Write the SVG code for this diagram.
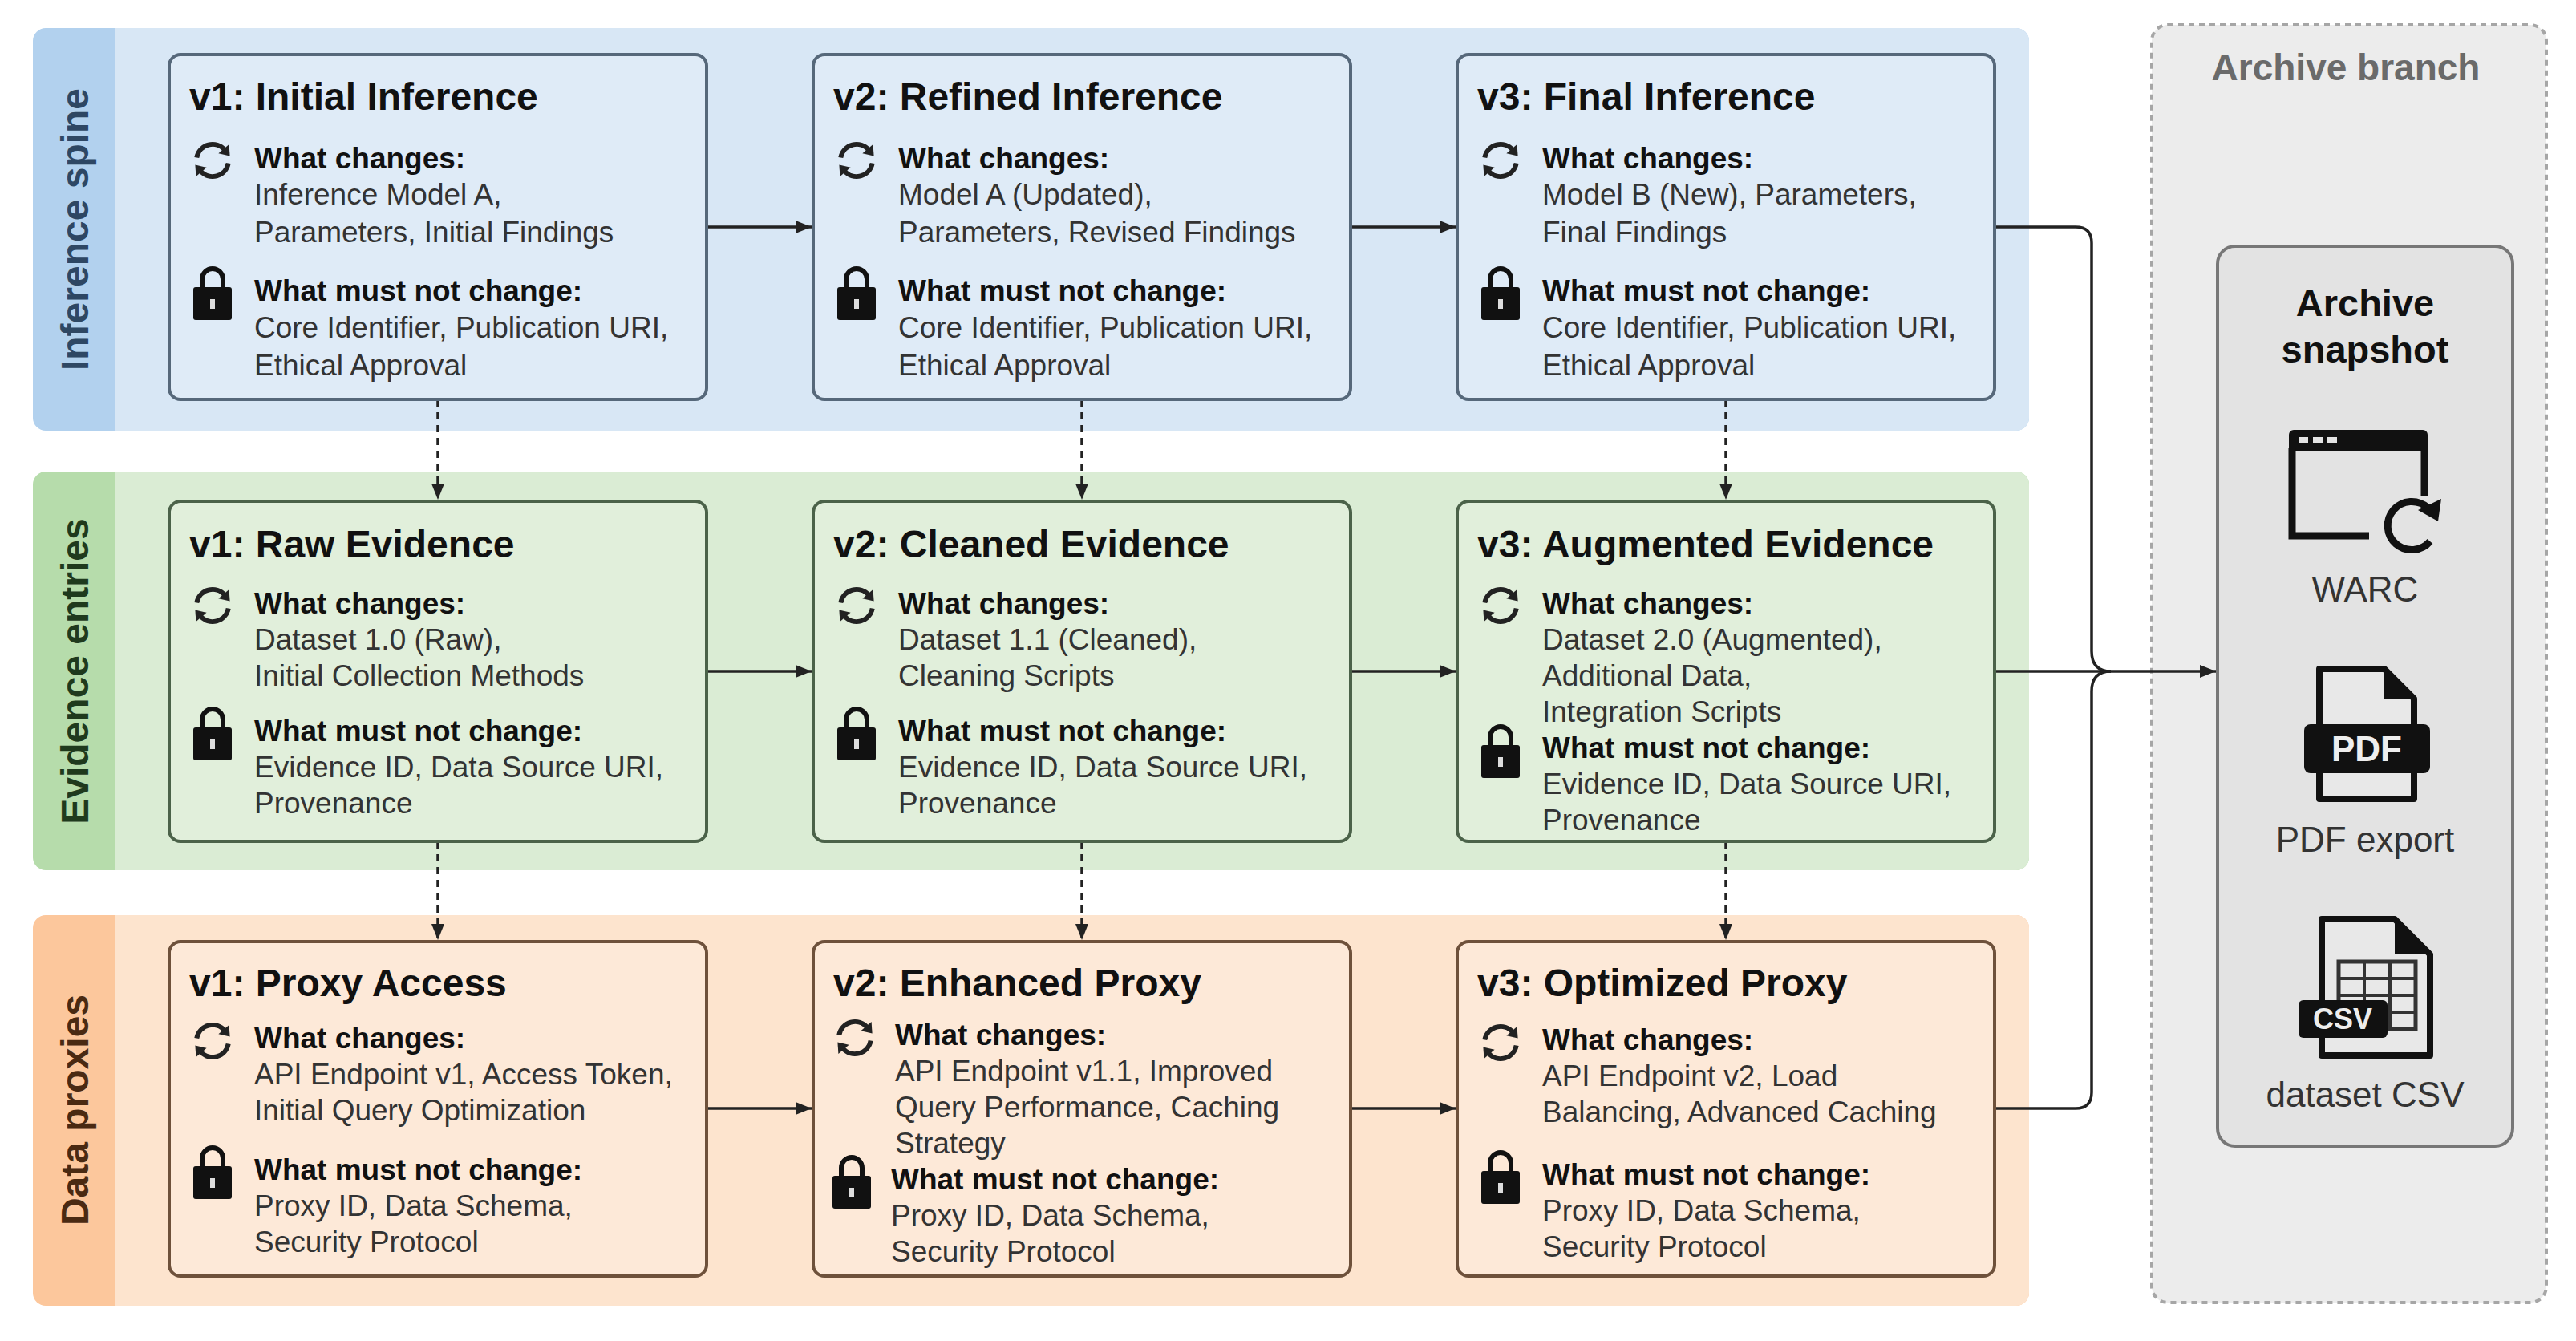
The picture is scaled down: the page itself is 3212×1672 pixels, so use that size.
<svg xmlns="http://www.w3.org/2000/svg" width="3212" height="1672" viewBox="0 0 3212 1672">
<style>
.title{font-family:"Liberation Sans",Arial,sans-serif;font-weight:bold;font-size:48px;fill:#111}
.hd{font-family:"Liberation Sans",Arial,sans-serif;font-weight:bold;font-size:37px;fill:#111}
.bd{font-family:"Liberation Sans",Arial,sans-serif;font-size:37px;fill:#333}
.lane{font-family:"Liberation Sans",Arial,sans-serif;font-weight:bold;font-size:48px}
.n1{fill:#dfebf7;stroke:#56687a;stroke-width:4}
.n2{fill:#e1efdb;stroke:#4b6249;stroke-width:4}
.n3{fill:#fde9d8;stroke:#6e513b;stroke-width:4}
.solid{fill:none;stroke:#222;stroke-width:3.5}
.dash{fill:none;stroke:#222;stroke-width:3.5;stroke-dasharray:9 7}
.arch{font-family:"Liberation Sans",Arial,sans-serif;font-size:44px;fill:#333;text-anchor:middle}
</style>
<defs>
<marker id="ah" markerUnits="userSpaceOnUse" viewBox="0 0 20 16" refX="20" refY="8" markerWidth="20" markerHeight="16" orient="auto">
<path d="M0 0 L20 8 L0 16 Z" fill="#222"/>
</marker>
<g id="sync">
<path d="M -19.7 -3.5 A 20 20 0 0 1 15.3 -12.9" fill="none" stroke="#222" stroke-width="6"/>
<path d="M 21.6 -5.5 L 20.6 -20 L 7.4 -8.8 Z" fill="#222"/>
<path d="M 19.7 3.5 A 20 20 0 0 1 -15.3 12.9" fill="none" stroke="#222" stroke-width="6"/>
<path d="M -21.6 5.5 L -20.6 20 L -7.4 8.8 Z" fill="#222"/>
</g>
<g id="lock">
<path d="M -13 -8 V -18 A 13 13 0 0 1 13 -18 V -8" fill="none" stroke="#111" stroke-width="6"/>
<rect x="-24" y="-8" width="48" height="41" rx="3" fill="#111"/>
<rect x="-3" y="7" width="6" height="12" fill="#ddd"/>
</g>
</defs>

<rect width="3212" height="1672" fill="#ffffff"/>

<!-- lanes -->
<g id="lane-inference">
<rect x="41" y="35" width="2489" height="502" rx="16" fill="#b2d1ee"/>
<path d="M143 35 H2514 A16 16 0 0 1 2530 51 V521 A16 16 0 0 1 2514 537 H143 Z" fill="#d8e7f5"/>
<text class="lane" fill="#2e4763" transform="translate(110 286) rotate(-90)" text-anchor="middle">Inference spine</text>
</g>
<g id="lane-evidence">
<rect x="41" y="588" width="2489" height="497" rx="16" fill="#b6dcab"/>
<path d="M143 588 H2514 A16 16 0 0 1 2530 604 V1069 A16 16 0 0 1 2514 1085 H143 Z" fill="#daecd4"/>
<text class="lane" fill="#1f3a1d" transform="translate(110 837) rotate(-90)" text-anchor="middle">Evidence entries</text>
</g>
<g id="lane-proxies">
<rect x="41" y="1141" width="2489" height="487" rx="16" fill="#fcc79c"/>
<path d="M143 1141 H2514 A16 16 0 0 1 2530 1157 V1612 A16 16 0 0 1 2514 1628 H143 Z" fill="#fde4ce"/>
<text class="lane" fill="#4a2a12" transform="translate(110 1384) rotate(-90)" text-anchor="middle">Data proxies</text>
</g>

<!-- archive branch -->
<g id="archive-branch">
<rect x="2683" y="31" width="492" height="1593" rx="20" fill="#ececec" stroke="#a6a6a6" stroke-width="4" stroke-dasharray="7 6"/>
<text x="2925" y="100" font-family="Liberation Sans, Arial, sans-serif" font-weight="bold" font-size="46" fill="#6a6a6a" text-anchor="middle">Archive branch</text>
</g>
<g id="archive-snapshot">
<rect x="2765" y="307" width="368" height="1122" rx="22" fill="#e3e3e3" stroke="#777" stroke-width="4"/>
<text x="2949" y="394" font-family="Liberation Sans, Arial, sans-serif" font-weight="bold" font-size="47" fill="#111" text-anchor="middle">Archive</text>
<text x="2949" y="452" font-family="Liberation Sans, Arial, sans-serif" font-weight="bold" font-size="47" fill="#111" text-anchor="middle">snapshot</text>
<!-- WARC icon -->
<g id="icon-warc">
<path d="M2860 536 H3021 A6 6 0 0 1 3027 542 V562 H2854 V542 A6 6 0 0 1 2860 536 Z" fill="#111"/>
<rect x="2866" y="545" width="12" height="7" fill="#e3e3e3"/>
<rect x="2884" y="545" width="12" height="7" fill="#e3e3e3"/>
<rect x="2902" y="545" width="12" height="7" fill="#e3e3e3"/>
<path d="M2858 558 V668 H2954" fill="none" stroke="#111" stroke-width="9"/>
<path d="M3023 558 V618" fill="none" stroke="#111" stroke-width="9"/>
<path d="M3030 675 A30 30 0 1 1 3027 633" fill="none" stroke="#111" stroke-width="9"/>
<path d="M3044 622 L3040 650 L3015 636 Z" fill="#111"/>
<text class="arch" x="2949" y="750">WARC</text>
</g>
<!-- PDF icon -->
<g id="icon-pdf">
<path d="M2892 834 H2973 L3010 871 V996 H2892 Z" fill="#e8e8e8" stroke="#111" stroke-width="8" stroke-linejoin="round"/>
<path d="M2973 834 L3010 871 H2973 Z" fill="#111"/>
<rect x="2873" y="903" width="157" height="61" rx="8" fill="#111"/>
<text x="2951" y="949" font-family="Liberation Sans, Arial, sans-serif" font-weight="bold" font-size="44" fill="#eee" text-anchor="middle">PDF</text>
<text class="arch" x="2949" y="1062">PDF export</text>
</g>
<!-- CSV icon -->
<g id="icon-csv">
<path d="M2895 1146 H2986 L3030 1190 V1316 H2895 Z" fill="#e8e8e8" stroke="#111" stroke-width="8" stroke-linejoin="round"/>
<path d="M2986 1146 L3030 1190 H2986 Z" fill="#111"/>
<rect x="2916" y="1199" width="96" height="84" fill="none" stroke="#333" stroke-width="5"/>
<path d="M2916 1220 H3012 M2916 1241 H3012 M2916 1262 H3012 M2948 1199 V1283 M2980 1199 V1283" stroke="#333" stroke-width="4"/>
<rect x="2866" y="1247" width="111" height="47" rx="6" fill="#111"/>
<text x="2921" y="1283" font-family="Liberation Sans, Arial, sans-serif" font-weight="bold" font-size="36" fill="#eee" text-anchor="middle">CSV</text>
<text class="arch" x="2949" y="1380">dataset CSV</text>
</g>
</g>

<!-- connectors -->
<g id="connectors">
<path class="solid" d="M881 283 H1012" marker-end="url(#ah)"/>
<path class="solid" d="M1684 283 H1815" marker-end="url(#ah)"/>
<path class="solid" d="M881 837 H1012" marker-end="url(#ah)"/>
<path class="solid" d="M1684 837 H1815" marker-end="url(#ah)"/>
<path class="solid" d="M881 1382 H1012" marker-end="url(#ah)"/>
<path class="solid" d="M1684 1382 H1815" marker-end="url(#ah)"/>
<path class="dash" d="M546 498 V623" marker-end="url(#ah)"/>
<path class="dash" d="M1349 498 V623" marker-end="url(#ah)"/>
<path class="dash" d="M2152 498 V623" marker-end="url(#ah)"/>
<path class="dash" d="M546 1049 V1172" marker-end="url(#ah)"/>
<path class="dash" d="M1349 1049 V1172" marker-end="url(#ah)"/>
<path class="dash" d="M2152 1049 V1172" marker-end="url(#ah)"/>
<path class="solid" d="M2487 283 H2588 Q2608 283 2608 303 V812 Q2608 837 2632 837"/>
<path class="solid" d="M2487 1382 H2588 Q2608 1382 2608 1362 V862 Q2608 837 2632 837"/>
<path class="solid" d="M2487 837 H2763" marker-end="url(#ah)"/>
</g>

<!-- Row 1 -->
<g id="node-v1-initial-inference">
<rect class="n1" x="211" y="68" width="670" height="430" rx="14"/>
<text class="title" x="236" y="137">v1: Initial Inference</text>
<use href="#sync" x="265" y="200"/>
<text class="hd" x="317" y="210">What changes:</text>
<text class="bd" x="317" y="255">Inference Model A,</text>
<text class="bd" x="317" y="302">Parameters, Initial Findings</text>
<use href="#lock" x="265" y="366"/>
<text class="hd" x="317" y="375">What must not change:</text>
<text class="bd" x="317" y="421">Core Identifier, Publication URI,</text>
<text class="bd" x="317" y="468">Ethical Approval</text>
</g>
<g id="node-v2-refined-inference">
<rect class="n1" x="1014" y="68" width="670" height="430" rx="14"/>
<text class="title" x="1039" y="137">v2: Refined Inference</text>
<use href="#sync" x="1068" y="200"/>
<text class="hd" x="1120" y="210">What changes:</text>
<text class="bd" x="1120" y="255">Model A (Updated),</text>
<text class="bd" x="1120" y="302">Parameters, Revised Findings</text>
<use href="#lock" x="1068" y="366"/>
<text class="hd" x="1120" y="375">What must not change:</text>
<text class="bd" x="1120" y="421">Core Identifier, Publication URI,</text>
<text class="bd" x="1120" y="468">Ethical Approval</text>
</g>
<g id="node-v3-final-inference">
<rect class="n1" x="1817" y="68" width="670" height="430" rx="14"/>
<text class="title" x="1842" y="137">v3: Final Inference</text>
<use href="#sync" x="1871" y="200"/>
<text class="hd" x="1923" y="210">What changes:</text>
<text class="bd" x="1923" y="255">Model B (New), Parameters,</text>
<text class="bd" x="1923" y="302">Final Findings</text>
<use href="#lock" x="1871" y="366"/>
<text class="hd" x="1923" y="375">What must not change:</text>
<text class="bd" x="1923" y="421">Core Identifier, Publication URI,</text>
<text class="bd" x="1923" y="468">Ethical Approval</text>
</g>

<!-- Row 2 -->
<g id="node-v1-raw-evidence">
<rect class="n2" x="211" y="625" width="670" height="424" rx="14"/>
<text class="title" x="236" y="695">v1: Raw Evidence</text>
<use href="#sync" x="265" y="755"/>
<text class="hd" x="317" y="765">What changes:</text>
<text class="bd" x="317" y="810">Dataset 1.0 (Raw),</text>
<text class="bd" x="317" y="855">Initial Collection Methods</text>
<use href="#lock" x="265" y="915"/>
<text class="hd" x="317" y="924">What must not change:</text>
<text class="bd" x="317" y="969">Evidence ID, Data Source URI,</text>
<text class="bd" x="317" y="1014">Provenance</text>
</g>
<g id="node-v2-cleaned-evidence">
<rect class="n2" x="1014" y="625" width="670" height="424" rx="14"/>
<text class="title" x="1039" y="695">v2: Cleaned Evidence</text>
<use href="#sync" x="1068" y="755"/>
<text class="hd" x="1120" y="765">What changes:</text>
<text class="bd" x="1120" y="810">Dataset 1.1 (Cleaned),</text>
<text class="bd" x="1120" y="855">Cleaning Scripts</text>
<use href="#lock" x="1068" y="915"/>
<text class="hd" x="1120" y="924">What must not change:</text>
<text class="bd" x="1120" y="969">Evidence ID, Data Source URI,</text>
<text class="bd" x="1120" y="1014">Provenance</text>
</g>
<g id="node-v3-augmented-evidence">
<rect class="n2" x="1817" y="625" width="670" height="424" rx="14"/>
<text class="title" x="1842" y="695">v3: Augmented Evidence</text>
<use href="#sync" x="1871" y="755"/>
<text class="hd" x="1923" y="765">What changes:</text>
<text class="bd" x="1923" y="810">Dataset 2.0 (Augmented),</text>
<text class="bd" x="1923" y="855">Additional Data,</text>
<text class="bd" x="1923" y="900">Integration Scripts</text>
<use href="#lock" x="1871" y="937"/>
<text class="hd" x="1923" y="945">What must not change:</text>
<text class="bd" x="1923" y="990">Evidence ID, Data Source URI,</text>
<text class="bd" x="1923" y="1035">Provenance</text>
</g>

<!-- Row 3 -->
<g id="node-v1-proxy-access">
<rect class="n3" x="211" y="1174" width="670" height="417" rx="14"/>
<text class="title" x="236" y="1242">v1: Proxy Access</text>
<use href="#sync" x="265" y="1298"/>
<text class="hd" x="317" y="1307">What changes:</text>
<text class="bd" x="317" y="1352">API Endpoint v1, Access Token,</text>
<text class="bd" x="317" y="1397">Initial Query Optimization</text>
<use href="#lock" x="265" y="1462"/>
<text class="hd" x="317" y="1471">What must not change:</text>
<text class="bd" x="317" y="1516">Proxy ID, Data Schema,</text>
<text class="bd" x="317" y="1561">Security Protocol</text>
</g>
<g id="node-v2-enhanced-proxy">
<rect class="n3" x="1014" y="1174" width="670" height="417" rx="14"/>
<text class="title" x="1039" y="1242">v2: Enhanced Proxy</text>
<use href="#sync" x="1066" y="1294"/>
<text class="hd" x="1116" y="1303">What changes:</text>
<text class="bd" x="1116" y="1348">API Endpoint v1.1, Improved</text>
<text class="bd" x="1116" y="1393">Query Performance, Caching</text>
<text class="bd" x="1116" y="1438">Strategy</text>
<use href="#lock" x="1062" y="1474"/>
<text class="hd" x="1111" y="1483">What must not change:</text>
<text class="bd" x="1111" y="1528">Proxy ID, Data Schema,</text>
<text class="bd" x="1111" y="1573">Security Protocol</text>
</g>
<g id="node-v3-optimized-proxy">
<rect class="n3" x="1817" y="1174" width="670" height="417" rx="14"/>
<text class="title" x="1842" y="1242">v3: Optimized Proxy</text>
<use href="#sync" x="1871" y="1300"/>
<text class="hd" x="1923" y="1309">What changes:</text>
<text class="bd" x="1923" y="1354">API Endpoint v2, Load</text>
<text class="bd" x="1923" y="1399">Balancing, Advanced Caching</text>
<use href="#lock" x="1871" y="1468"/>
<text class="hd" x="1923" y="1477">What must not change:</text>
<text class="bd" x="1923" y="1522">Proxy ID, Data Schema,</text>
<text class="bd" x="1923" y="1567">Security Protocol</text>
</g>
</svg>
